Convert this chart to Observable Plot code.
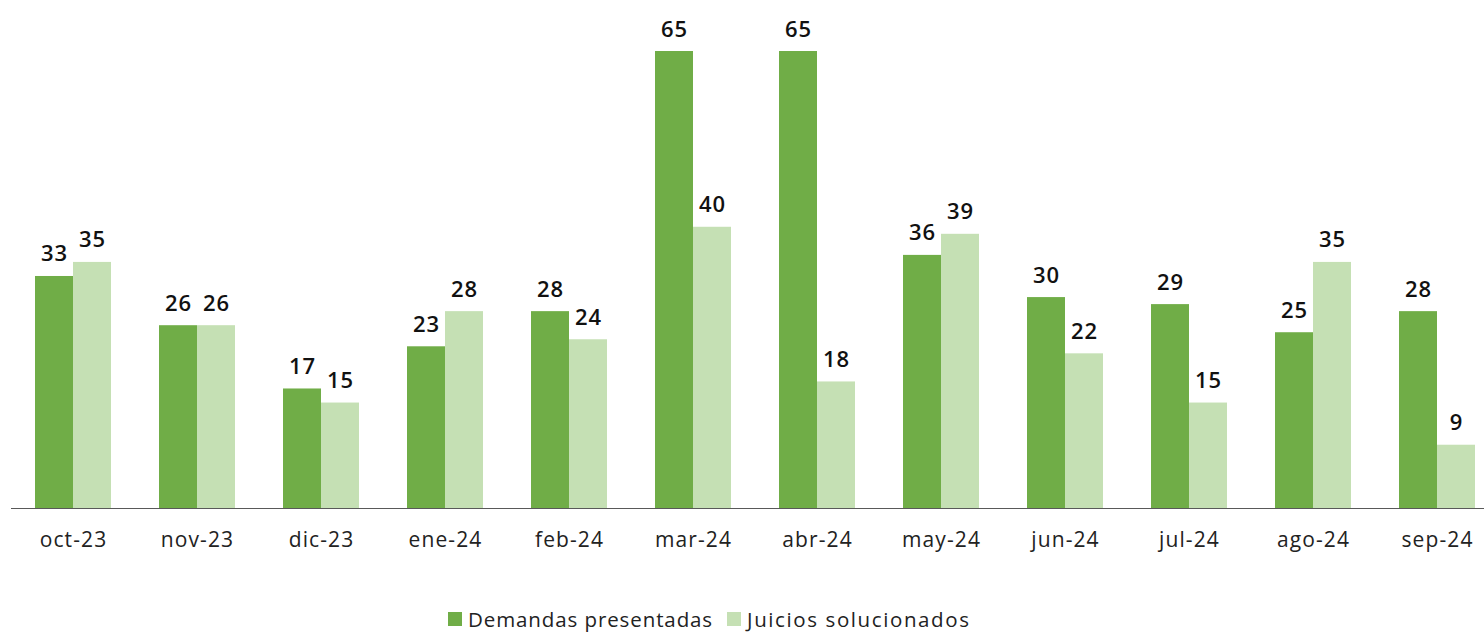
<!DOCTYPE html>
<html><head><meta charset="utf-8">
<script src="https://cdn.jsdelivr.net/npm/d3@7"></script>
<script src="https://cdn.jsdelivr.net/npm/@observablehq/plot@0.6"></script>
<style>
body{margin:0;background:#fff;font-family:"Open Sans","Noto Sans",sans-serif;}
#legend{display:flex;align-items:center;padding-left:448px;height:30px;font-size:20.5px;color:#222;letter-spacing:0.9px;}
#legend .item{display:flex;align-items:center;margin-right:14px;}
#legend .sw{width:14px;height:14px;margin-right:6px;}
svg g[aria-label="fx-axis tick label"] text{letter-spacing:1.1px;}
</style></head>
<body>
<div id="chart"></div>
<div id="legend"></div>
<script>
const months = ["oct-23","nov-23","dic-23","ene-24","feb-24","mar-24","abr-24","may-24","jun-24","jul-24","ago-24","sep-24"];
const demandas = [33,26,17,23,28,65,65,36,30,29,25,28];
const juicios = [35,26,15,28,24,40,18,39,22,15,35,9];
const series = ["Demandas presentadas","Juicios solucionados"];
const colors = ["#70AD47","#C5E0B4"];

const data = months.flatMap((m,i)=>[
  {month:m, serie:series[0], value:demandas[i]},
  {month:m, serie:series[1], value:juicios[i]}
]);

const chart = Plot.plot({
  width:1484, height:604,
  marginTop:51, marginBottom:96, marginLeft:11, marginRight:0,
  style:{fontFamily:"'Open Sans', 'Noto Sans', sans-serif", background:"#fff"},
  fx:{domain:months, range:[11,1499], padding:0, label:null},
  x:{domain:series, paddingInner:0, paddingOuter:0.59, axis:null},
  y:{domain:[0,65], axis:null},
  color:{domain:series, range:colors},
  marks:[
    Plot.barY(data,{fx:"month", x:"serie", y:"value", fill:"serie"}),
    Plot.ruleY([0],{stroke:"#595959", strokeWidth:1.2}),
    Plot.text(data,{fx:"month", x:"serie", y:"value", text:d=>String(d.value), lineAnchor:"bottom", dy:-15, fontSize:22, fontWeight:600, fill:"#111"}),
    Plot.axisFx({anchor:"bottom", tickSize:0, tickPadding:24, fontSize:21, fill:"#222", label:null})
  ]
});
document.getElementById("chart").appendChild(chart);
chart.querySelectorAll('g[aria-label="text"] text').forEach(t=>t.style.letterSpacing="1px");

const leg = document.getElementById("legend");
series.forEach((s,i)=>{
  const it = document.createElement("div"); it.className="item";
  const sw = document.createElement("div"); sw.className="sw"; sw.style.background=colors[i];
  const t = document.createElement("span"); t.textContent=s;
  if (i===1) t.style.letterSpacing="1.6px";
  it.appendChild(sw); it.appendChild(t); leg.appendChild(it);
});
</script>
</body></html>
